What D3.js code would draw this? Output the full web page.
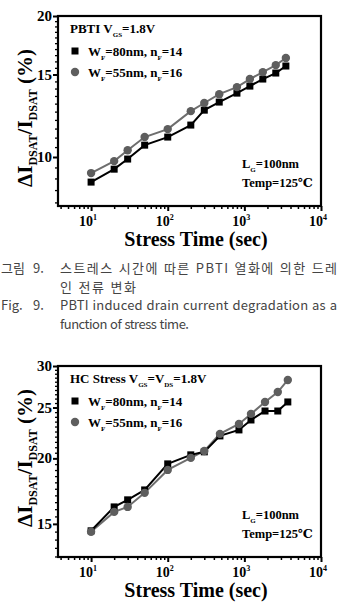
<!DOCTYPE html>
<html lang="ko">
<head>
<meta charset="UTF-8">
<script src="https://d3js.org/d3.v7.min.js"></script>
<style>
  body { margin: 0; background: #fff; }
  svg { display: block; }
  .serif { font-family: "Liberation Serif", "DejaVu Serif", serif; font-weight: bold; }
  .cap { font-family: "Noto Sans CJK KR", "Noto Sans", sans-serif; fill: #444; font-size: 13px; }
</style>
</head>
<body>
<div id="chart"></div>
<script>
// stress times (sec)
const pbtiTimes = [10, 20, 30, 50, 100, 200, 300, 470, 800, 1180, 1740, 2570, 3480];
const hcTimes   = [10, 20, 30, 50, 100, 200, 300, 480, 850, 1220, 1860, 2730, 3690];

// delta Idsat / Idsat (%)
const pbti80 = [8.84, 9.42, 9.90, 10.60, 11.03, 11.70, 12.59, 13.10, 13.69, 14.17, 14.67, 15.11, 15.64];
const pbti55 = [9.24, 9.80, 10.34, 11.03, 11.47, 12.53, 13.04, 13.62, 14.10, 14.67, 15.18, 15.71, 16.27];
const hc80   = [14.55, 16.16, 16.67, 17.41, 19.52, 20.31, 20.58, 22.07, 22.66, 23.67, 24.62, 24.62, 25.62];
const hc55   = [14.49, 15.81, 16.16, 17.19, 19.01, 20.04, 20.66, 22.27, 23.26, 24.31, 25.62, 26.76, 28.22];

const xTicks = [10, 100, 1000, 10000];
const pbtiYTicks = [10, 15, 20];
const hcYTicks = [15, 20, 25, 30];

const W = 339, H = 605;
const svg = d3.select("#chart").append("svg").attr("width", W).attr("height", H);

function drawPanel(top, bottom, yDomain, yTicks, times, s80, s55, title, titleY) {
  const left = 58, right = 321;
  const x = d3.scaleLog().domain([3.7, 10000]).range([left, right]);
  const y = d3.scaleLog().domain(yDomain).range([bottom, top]);
  const g = svg.append("g");

  // minor ticks
  const xMinor = [];
  for (let e = 0; e < 4; e++) for (let k = 2; k <= 9; k++) {
    const v = k * Math.pow(10, e);
    if (v >= 3.7 && v <= 10000 && !xTicks.includes(v)) xMinor.push(v);
  }
  g.append("g").attr("transform", `translate(0,${bottom})`)
    .call(d3.axisBottom(x).tickValues(xMinor).tickSize(3).tickFormat(""))
    .call(a => a.select(".domain").remove())
    .selectAll("line").attr("stroke", "#000").attr("stroke-width", 1.5);
  g.append("g").attr("transform", `translate(0,${bottom})`)
    .call(d3.axisBottom(x).tickValues(xTicks).tickSize(5).tickFormat(""))
    .call(a => a.select(".domain").remove())
    .selectAll("line").attr("stroke", "#000").attr("stroke-width", 2);

  const yMinor = d3.range(Math.ceil(yDomain[0] * 2) / 2, yDomain[1] + 0.01, 0.5)
    .filter(v => !yTicks.includes(v));
  g.append("g").attr("transform", `translate(${left},0)`)
    .call(d3.axisLeft(y).tickValues(yMinor).tickSize(3).tickFormat(""))
    .call(a => a.select(".domain").remove())
    .selectAll("line").attr("stroke", "#000").attr("stroke-width", 1.3);
  g.append("g").attr("transform", `translate(${left},0)`)
    .call(d3.axisLeft(y).tickValues(yTicks).tickSize(5).tickFormat(""))
    .call(a => a.select(".domain").remove())
    .selectAll("line").attr("stroke", "#000").attr("stroke-width", 2);

  // frame
  g.append("rect").attr("x", left).attr("y", top)
    .attr("width", right - left).attr("height", bottom - top)
    .attr("fill", "none").attr("stroke", "#000").attr("stroke-width", 2.2);

  // tick labels
  g.selectAll(".yl").data(yTicks).enter().append("text")
    .attr("class", "serif").attr("x", left - 6).attr("y", d => y(d) + 5)
    .attr("text-anchor", "end").attr("font-size", 15).text(d => d);
  xTicks.forEach(v => {
    const t = g.append("text").attr("class", "serif")
      .attr("x", x(v) - 3).attr("y", bottom + 20)
      .attr("text-anchor", "middle").attr("font-size", 14);
    t.append("tspan").text("10");
    t.append("tspan").attr("dy", -6).attr("font-size", 8).text(Math.round(Math.log10(v)));
  });

  // axis titles
  g.append("text").attr("class", "serif").attr("x", 196).attr("y", bottom + 40)
    .attr("text-anchor", "middle").attr("font-size", 20).text("Stress Time (sec)");
  const yt = g.append("text").attr("class", "serif")
    .attr("transform", `translate(32,${titleY}) rotate(-90)`)
    .attr("text-anchor", "middle").attr("font-size", 21);
  yt.append("tspan").text("\u0394I");
  yt.append("tspan").attr("dy", 5).attr("font-size", 12).text("DSAT");
  yt.append("tspan").attr("dy", -5).text("/I");
  yt.append("tspan").attr("dy", 5).attr("font-size", 12).text("DSAT");
  yt.append("tspan").attr("dy", -5).text(" (%)");

  // series
  const line = d3.line().x(d => x(d[0])).y(d => y(d[1]));
  const d80 = times.map((t, i) => [t, s80[i]]);
  const d55 = times.map((t, i) => [t, s55[i]]);
  g.append("path").datum(d55).attr("d", line).attr("fill", "none")
    .attr("stroke", "#6e6e6e").attr("stroke-width", 2);
  g.append("path").datum(d80).attr("d", line).attr("fill", "none")
    .attr("stroke", "#000").attr("stroke-width", 2);
  g.selectAll(".sq").data(d80).enter().append("rect")
    .attr("x", d => x(d[0]) - 3.5).attr("y", d => y(d[1]) - 3.5)
    .attr("width", 7).attr("height", 7).attr("fill", "#000");
  g.selectAll(".ci").data(d55).enter().append("circle")
    .attr("cx", d => x(d[0])).attr("cy", d => y(d[1])).attr("r", 4.2)
    .attr("fill", "#5e5e5e");

  // legend
  const tt = g.append("text").attr("class", "serif").attr("x", 70).attr("y", top + 17).attr("font-size", 13);
  title.forEach(p => {
    if (p.sub) tt.append("tspan").attr("dy", 4).attr("font-size", 7).text(p.sub);
    else tt.append("tspan").attr("dy", p.after ? -4 : 0).text(p.t);
  });
  const legend = [["80", "14", "sq"], ["55", "16", "ci"]];
  legend.forEach((l, i) => {
    const ly = top + 35 + i * 21;
    if (l[2] === "sq") g.append("rect").attr("x", 71.5).attr("y", ly - 3.5).attr("width", 7).attr("height", 7).attr("fill", "#000");
    else g.append("circle").attr("cx", 75).attr("cy", ly).attr("r", 4.2).attr("fill", "#5e5e5e");
    const t = g.append("text").attr("class", "serif").attr("x", 88).attr("y", ly + 5).attr("font-size", 13);
    t.append("tspan").text("W");
    t.append("tspan").attr("dy", 4).attr("font-size", 7).text("F");
    t.append("tspan").attr("dy", -4).text(`=${l[0]}nm, n`);
    t.append("tspan").attr("dy", 4).attr("font-size", 7).text("F");
    t.append("tspan").attr("dy", -4).text(`=${l[1]}`);
  });

  // conditions
  const c1 = g.append("text").attr("class", "serif").attr("x", 242).attr("y", bottom - 38).attr("font-size", 12.5);
  c1.append("tspan").text("L");
  c1.append("tspan").attr("dy", 4).attr("font-size", 7).text("G");
  c1.append("tspan").attr("dy", -4).text("=100nm");
  g.append("text").attr("class", "serif").attr("x", 242).attr("y", bottom - 19)
    .attr("font-size", 12.5).text("Temp=125\u2103");
}

drawPanel(16, 206, [7.86, 20], pbtiYTicks, pbtiTimes, pbti80, pbti55,
  [{t: "PBTI V"}, {sub: "GS"}, {t: "=1.8V", after: true}], 118);
drawPanel(366, 557, [12.97, 30], hcYTicks, hcTimes, hc80, hc55,
  [{t: "HC Stress V"}, {sub: "GS"}, {t: "=V", after: true}, {sub: "DS"}, {t: "=1.8V", after: true}], 458);

// captions
function capLine(y, a, b, body, len) {
  if (a) svg.append("text").attr("class", "cap").attr("x", 1).attr("y", y).text(a);
  if (b) svg.append("text").attr("class", "cap").attr("x", 33).attr("y", y).text(b);
  const t = svg.append("text").attr("class", "cap").attr("x", 60).attr("y", y).text(body);
  if (len) t.attr("textLength", len).attr("lengthAdjust", "spacing");
}
capLine(273, "그림", "9.", "스트레스 시간에 따른 PBTI 열화에 의한 드레", 277);
capLine(292, null, null, "인 전류 변화", 76);
capLine(310, "Fig.", "9.", "PBTI induced drain current degradation as a", 277);
capLine(329, null, null, "function of stress time.", 129);
</script>
</body>
</html>
